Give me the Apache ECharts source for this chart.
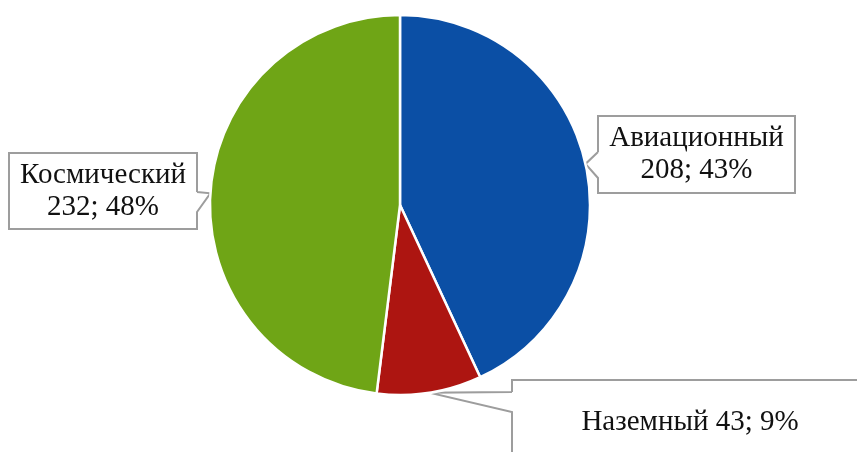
<!DOCTYPE html>
<html>
<head>
<meta charset="utf-8">
<script src="https://cdn.jsdelivr.net/npm/echarts@6/dist/echarts.min.js"></script>
<style>
  html, body { margin: 0; padding: 0; background: #ffffff; }
  #chart { width: 857px; height: 452px; }
</style>
</head>
<body>
<div id="chart"></div>
<script>
// Sector breakdown
const sectors = ['Авиационный', 'Наземный', 'Космический'];
const counts = [208, 43, 232];
const sectorColors = ['#0b4fa5', '#ad1511', '#6fa516'];
const singleLine = [false, true, false];

// Callout boxes: centre, size and the span of the pointer base on the box side
const callouts = {
  'Авиационный': { cx: 696.5, cy: 154.5, w: 197, h: 77, n1: 152, n2: 178 },
  'Наземный':    { cx: 690,   cy: 422,   w: 356, h: 84, n1: 392, n2: 412 },
  'Космический': { cx: 103,   cy: 191,   w: 188, h: 76, n1: 192, n2: 212 }
};

const chart = echarts.init(document.getElementById('chart'), null, { renderer: 'canvas' });

const pieData = sectors.map((name, i) => {
  const item = { name: name, value: counts[i], itemStyle: { color: sectorColors[i] } };
  if (singleLine[i]) item.label = { formatter: '{b} {c}; {d}%' };
  return item;
});

chart.setOption({
  animation: false,
  backgroundColor: '#ffffff',
  series: [{
    type: 'pie',
    center: [400, 205],
    radius: 190,
    startAngle: 90,
    clockwise: true,
    percentPrecision: 0,
    avoidLabelOverlap: false,
    itemStyle: { borderColor: '#ffffff', borderWidth: 2.5 },
    emphasis: { disabled: true },
    label: {
      show: true,
      position: 'outside',
      formatter: '{b}\n{c}; {d}%',
      fontFamily: 'Liberation Serif',
      fontSize: 29,
      lineHeight: 32,
      color: '#111111'
    },
    labelLine: {
      show: true,
      smooth: false,
      lineStyle: { color: '#9d9d9d', width: 2 }
    },
    // Place each label inside its callout and trace the callout outline with the label line,
    // pointer tip on the slice edge.
    labelLayout: function (p) {
      const c = callouts[sectors[p.dataIndex]];
      const tip = (p.labelLinePoints && p.labelLinePoints[0]) || [c.cx, c.cy];
      const L = c.cx - c.w / 2, R = c.cx + c.w / 2;
      const T = c.cy - c.h / 2, B = c.cy + c.h / 2;
      let pts;
      if (tip[0] < L) {
        pts = [[L, c.n1], [L, T], [R, T], [R, B], [L, B], [L, c.n2], tip, [L, c.n1]];
      } else {
        pts = [[R, c.n1], [R, T], [L, T], [L, B], [R, B], [R, c.n2], tip, [R, c.n1]];
      }
      return { x: c.cx, y: c.cy, align: 'center', verticalAlign: 'middle', labelLinePoints: pts };
    },
    data: pieData
  }]
});
</script>
</body>
</html>
